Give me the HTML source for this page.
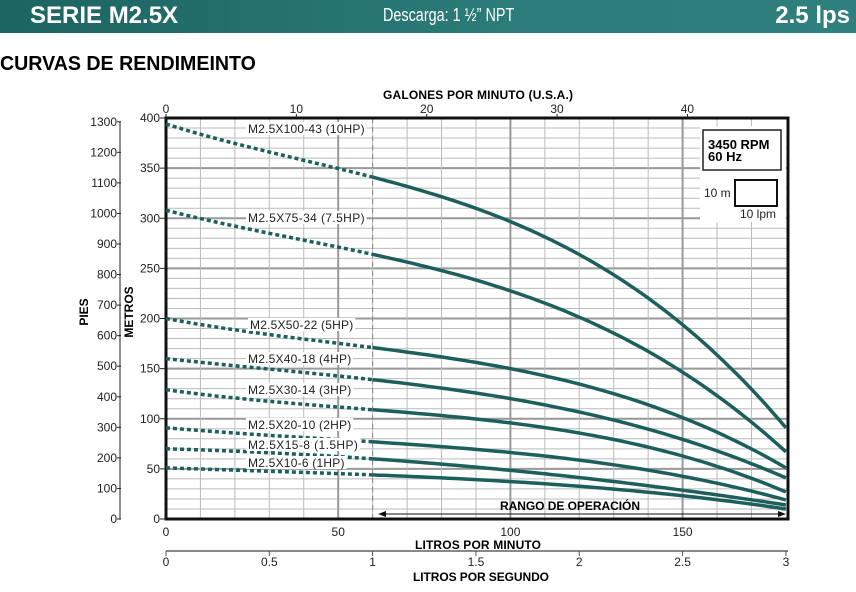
<!DOCTYPE html>
<html><head><meta charset="utf-8"><style>
body{margin:0;width:856px;height:592px;background:#fff;overflow:hidden;font-family:"Liberation Sans",sans-serif}
#hdr{position:absolute;left:0;top:0;width:856px;height:33px;background:linear-gradient(90deg,#1c6460,#2c7c79 60%,#2f807d);color:#fff}
</style></head><body>
<div id="hdr">
<div style="position:absolute;left:30px;top:2px;font-size:24px;font-weight:bold">SERIE M2.5X</div>
<div style="position:absolute;left:383px;top:5px;font-size:18px;transform:scaleX(.8);transform-origin:left">Descarga: 1 ½” NPT</div>
<div style="position:absolute;right:6px;top:2px;font-size:24px;font-weight:bold">2.5 lps</div>
</div>
<div style="position:absolute;left:0;top:53px;font-size:20px;font-weight:bold;transform:scaleX(.98);transform-origin:left">CURVAS DE RENDIMEINTO</div>
<svg id="s" width="856" height="592" style="position:absolute;left:0;top:0"></svg>
<script>
const X0=166,PX=3.444,Y0=519,PY=1.0025;
const X=l=>X0+l*PX, Y=m=>Y0-m*PY;
let g='';
for(let m=10;m<400;m+=10){let mj=m%50==0;g+=`<line x1="${X0}" x2="788" y1="${Y(m)}" y2="${Y(m)}" stroke="${mj?'#999':'#bbb'}" stroke-width="${mj?2:1}"/>`}
for(let l=10;l<180;l+=10){let mj=l%50==0;g+=`<line y1="118" y2="519" x1="${X(l)}" x2="${X(l)}" stroke="${mj?'#999':'#bbb'}" stroke-width="${mj?2:1}"/>`}
g+=`<line x1="${X(60)}" x2="${X(60)}" y1="118" y2="519" stroke="#888" stroke-dasharray="5,4"/>`;
g+=`<rect x="700" y="126" width="86" height="96" fill="#fff"/>`;
g+=`<rect x="166" y="118" width="622" height="401" fill="none" stroke="#111" stroke-width="3"/>`;
const T=(x,y,t,o='')=>g+=`<text x="${x}" y="${y}" font-size="12" fill="#222" ${o}>${t}</text>`;
for(let m=0;m<=400;m+=50){T(160,Y(m)+4,m,'text-anchor="end"');g+=`<line x1="160" x2="166" y1="${Y(m)}" y2="${Y(m)}" stroke="#222"/>`}
g+=`<line x1="120" x2="120" y1="${Y(1300*.3048)}" y2="519" stroke="#222"/>`;
for(let f=0;f<=1300;f+=100){let y=Y(f*.3048);T(117,y+4,f,'text-anchor="end"');g+=`<line x1="117" x2="121" y1="${y}" y2="${y}" stroke="#222"/>`}
for(let l=0;l<=150;l+=50)T(X(l),536,l,'text-anchor="middle"');
for(let gp=0;gp<=40;gp+=10){let x=X(gp*3.785);T(x,113,gp,'text-anchor="middle"');g+=`<line x1="${x}" x2="${x}" y1="114" y2="118" stroke="#222"/>`}
g+=`<line x1="166" x2="788" y1="551" y2="551" stroke="#888" stroke-width="2"/>`;
[0,0.5,1,1.5,2,2.5,3].forEach(v=>{let x=X(v*60);T(x,566,v,'text-anchor="middle"');g+=`<line x1="${x}" x2="${x}" y1="551" y2="556" stroke="#555"/>`});
g+=`<text x="478" y="99" font-size="12" font-weight="bold" text-anchor="middle" textLength="190">GALONES POR MINUTO (U.S.A.)</text>`;
g+=`<text x="478" y="549" font-size="12" font-weight="bold" text-anchor="middle" textLength="126">LITROS POR MINUTO</text>`;
g+=`<text x="481" y="581" font-size="12" font-weight="bold" text-anchor="middle" textLength="136">LITROS POR SEGUNDO</text>`;
g+=`<text x="570" y="510" font-size="12" font-weight="bold" text-anchor="middle" textLength="140">RANGO DE OPERACIÓN</text>`;
g+=`<text transform="translate(88,312) rotate(-90)" font-size="12" font-weight="bold" text-anchor="middle">PIES</text>`;
g+=`<text transform="translate(133,312) rotate(-90)" font-size="12" font-weight="bold" text-anchor="middle">METROS</text>`;
g+=`<line x1="380" x2="782" y1="514" y2="514" stroke="#111"/><path d="M378 514l8-3v6z M786 514l-8-3v6z" fill="#111"/>`;
g+=`<rect x="703" y="130" width="78" height="40" fill="#fff" stroke="#222" stroke-width="1.5"/>`;
g+=`<text x="708" y="149" font-size="13" font-weight="bold">3450 RPM</text><text x="708" y="161" font-size="13" font-weight="bold">60 Hz</text>`;
g+=`<rect x="735" y="180" width="42" height="26" fill="#fff" stroke="#111" stroke-width="2"/>`;
T(704,197,'10 m');T(740,218,'10 lpm');
const C=[
[[0,394],[60,341],[126,252],[180,91]],
[[0,308],[60,264],[126,192],[180,67]],
[[0,200],[60,171],[126,129],[180,51]],
[[0,160],[60,139],[126,102],[180,41]],
[[0,129],[60,109],[126,82],[180,27]],
[[0,91],[60,77],[126,56],[180,19]],
[[0,70],[60,60],[126,39],[180,14]],
[[0,51],[60,44],[126,31],[180,10]]];
function ev(p,l){let s=0;for(let i=0;i<p.length;i++){let t=p[i][1];for(let j=0;j<p.length;j++)if(j!=i)t*=(l-p[j][0])/(p[i][0]-p[j][0]);s+=t}return s;}
C.forEach(p=>{let a=[],b=[];
 for(let l=0;l<=60;l+=1)a.push(X(l).toFixed(1)+','+Y(ev(p,l)).toFixed(1));
 for(let l=60;l<=180;l+=2)b.push(X(l).toFixed(1)+','+Y(ev(p,l)).toFixed(1));
 g+=`<polyline points="${a.join(' ')}" fill="none" stroke="#1d5f5c" stroke-width="3.5" stroke-dasharray="4,3"/>`;
 g+=`<polyline points="${b.join(' ')}" fill="none" stroke="#1d5f5c" stroke-width="3.5"/>`;});
[['M2.5X100-43 (10HP)',248,133],['M2.5X75-34 (7.5HP)',248,222],['M2.5X50-22 (5HP)',250,329],['M2.5X40-18 (4HP)',248,363],['M2.5X30-14 (3HP)',248,394],['M2.5X20-10 (2HP)',248,429],['M2.5X15-8 (1.5HP)',248,449],['M2.5X10-6 (1HP)',248,467]].forEach(([t,x,y])=>{
 let w=t.length*6.7;g+=`<rect x="${x-2}" y="${y-11}" width="${w}" height="13" fill="#fff"/>`;
 g+=`<text x="${x}" y="${y}" font-size="12" fill="#222" textLength="${w-4}">${t}</text>`;});
document.getElementById('s').innerHTML=g;
</script>
</body></html>
